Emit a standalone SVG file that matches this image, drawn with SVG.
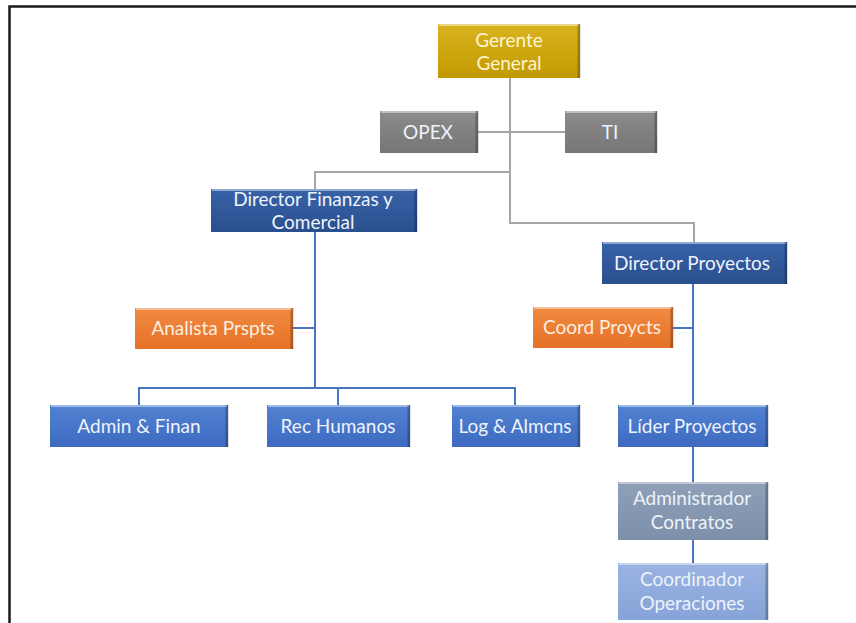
<svg xmlns="http://www.w3.org/2000/svg" width="856" height="623" viewBox="0 0 856 623">
<style>
  .t{font-family:Lato,"Open Sans","Liberation Sans",sans-serif;font-size:19px;text-anchor:middle;fill:#eef3fb}
  .cg{fill:none;stroke:#a6a6a6;stroke-width:2}
  .cb{fill:none;stroke:#4a74c0;stroke-width:2}
  .hl{stroke:#ffffff;stroke-opacity:0.45;stroke-width:2}
  .sh{stroke:#000000;stroke-opacity:0.25;stroke-width:3}
</style>
<defs>
  <linearGradient id="gold" x1="0" y1="0" x2="0" y2="1"><stop offset="0" stop-color="#d9b420"/><stop offset="1" stop-color="#c19a00"/></linearGradient>
  <linearGradient id="gray" x1="0" y1="0" x2="0" y2="1"><stop offset="0" stop-color="#8c8c8c"/><stop offset="1" stop-color="#767676"/></linearGradient>
  <linearGradient id="dblue" x1="0" y1="0" x2="0" y2="1"><stop offset="0" stop-color="#3862a8"/><stop offset="1" stop-color="#2a4f8e"/></linearGradient>
  <linearGradient id="orange" x1="0" y1="0" x2="0" y2="1"><stop offset="0" stop-color="#f08a40"/><stop offset="1" stop-color="#e57228"/></linearGradient>
  <linearGradient id="mblue" x1="0" y1="0" x2="0" y2="1"><stop offset="0" stop-color="#5282d2"/><stop offset="1" stop-color="#3d6ac0"/></linearGradient>
  <linearGradient id="sblue" x1="0" y1="0" x2="0" y2="1"><stop offset="0" stop-color="#8fa0b8"/><stop offset="1" stop-color="#7d90aa"/></linearGradient>
  <linearGradient id="lblue" x1="0" y1="0" x2="0" y2="1"><stop offset="0" stop-color="#9ab3e2"/><stop offset="1" stop-color="#86a3d8"/></linearGradient>
</defs>
<rect x="0" y="0" width="856" height="623" fill="#ffffff"/>
<path d="M9.5 623 V6.5 H856" fill="none" stroke="#1a1a1a" stroke-width="2.5"/>

<g id="connectors">
  <path class="cg" d="M510 78 V223 H694 V242"/>
  <path class="cg" d="M478 132 H565"/>
  <path class="cg" d="M510 172 H315 V189"/>
  <path class="cb" d="M315 232 V388"/>
  <path class="cb" d="M293 328 H315"/>
  <path class="cb" d="M139 405 V388 H515 V405"/>
  <path class="cb" d="M338 388 V405"/>
  <path class="cb" d="M693 283 V405"/>
  <path class="cb" d="M673 328 H693"/>
  <path class="cb" d="M693 447 V482"/>
  <path class="cb" d="M693 540 V563"/>
</g>

<g id="gerente">
  <rect x="438" y="24" width="142" height="54" fill="url(#gold)"/>
  <line class="hl" x1="439" y1="25" x2="579" y2="25"/><line class="sh" x1="579" y1="24" x2="579" y2="78"/>
  <text class="t" x="509" y="47" style="fill:#fff3cf">Gerente</text>
  <text class="t" x="509" y="70" style="fill:#fff3cf">General</text>
</g>
<g id="opex">
  <rect x="380" y="111" width="98" height="42" fill="url(#gray)"/>
  <line class="hl" x1="381" y1="112" x2="477" y2="112"/><line class="sh" x1="477" y1="111" x2="477" y2="153"/>
  <text class="t" x="428" y="139">OPEX</text>
</g>
<g id="ti">
  <rect x="565" y="111" width="92" height="42" fill="url(#gray)"/>
  <line class="hl" x1="566" y1="112" x2="656" y2="112"/><line class="sh" x1="656" y1="111" x2="656" y2="153"/>
  <text class="t" x="610" y="139">TI</text>
</g>
<g id="dir-finanzas">
  <rect x="211" y="189" width="206" height="43" fill="url(#dblue)"/>
  <line class="hl" x1="212" y1="190" x2="416" y2="190"/><line class="sh" x1="416" y1="189" x2="416" y2="232"/>
  <text class="t" x="313" y="206">Director Finanzas y</text>
  <text class="t" x="313" y="229">Comercial</text>
</g>
<g id="dir-proyectos">
  <rect x="602" y="242" width="185" height="42" fill="url(#dblue)"/>
  <line class="hl" x1="603" y1="243" x2="786" y2="243"/><line class="sh" x1="786" y1="242" x2="786" y2="284"/>
  <text class="t" x="692" y="270">Director Proyectos</text>
</g>
<g id="analista">
  <rect x="135" y="308" width="158" height="41" fill="url(#orange)"/>
  <line class="hl" x1="136" y1="309" x2="292" y2="309"/><line class="sh" x1="292" y1="308" x2="292" y2="349"/>
  <text class="t" x="213" y="335" style="fill:#fdeee0">Analista Prspts</text>
</g>
<g id="coord-proycts">
  <rect x="533" y="307" width="140" height="41" fill="url(#orange)"/>
  <line class="hl" x1="534" y1="308" x2="672" y2="308"/><line class="sh" x1="672" y1="307" x2="672" y2="348"/>
  <text class="t" x="602" y="334" style="fill:#fdeee0">Coord Proycts</text>
</g>
<g id="admin-finan">
  <rect x="50" y="405" width="178" height="42" fill="url(#mblue)"/>
  <line class="hl" x1="51" y1="406" x2="227" y2="406"/><line class="sh" x1="227" y1="405" x2="227" y2="447"/>
  <text class="t" x="139" y="433">Admin &amp; Finan</text>
</g>
<g id="rec-humanos">
  <rect x="267" y="405" width="143" height="42" fill="url(#mblue)"/>
  <line class="hl" x1="268" y1="406" x2="409" y2="406"/><line class="sh" x1="409" y1="405" x2="409" y2="447"/>
  <text class="t" x="338" y="433">Rec Humanos</text>
</g>
<g id="log-almcns">
  <rect x="452" y="405" width="128" height="42" fill="url(#mblue)"/>
  <line class="hl" x1="453" y1="406" x2="579" y2="406"/><line class="sh" x1="579" y1="405" x2="579" y2="447"/>
  <text class="t" x="515" y="433">Log &amp; Almcns</text>
</g>
<g id="lider">
  <rect x="618" y="405" width="150" height="42" fill="url(#mblue)"/>
  <line class="hl" x1="619" y1="406" x2="767" y2="406"/><line class="sh" x1="767" y1="405" x2="767" y2="447"/>
  <text class="t" x="692" y="433">Líder Proyectos</text>
</g>
<g id="administrador">
  <rect x="618" y="482" width="150" height="58" fill="url(#sblue)"/>
  <line class="hl" x1="619" y1="483" x2="767" y2="483"/><line class="sh" x1="767" y1="482" x2="767" y2="540"/>
  <text class="t" x="692" y="505">Administrador</text>
  <text class="t" x="692" y="529">Contratos</text>
</g>
<g id="coordinador">
  <rect x="618" y="563" width="150" height="57" fill="url(#lblue)"/>
  <line class="hl" x1="619" y1="564" x2="767" y2="564"/><line class="sh" x1="767" y1="563" x2="767" y2="620"/>
  <text class="t" x="692" y="586">Coordinador</text>
  <text class="t" x="692" y="610">Operaciones</text>
</g>
</svg>
